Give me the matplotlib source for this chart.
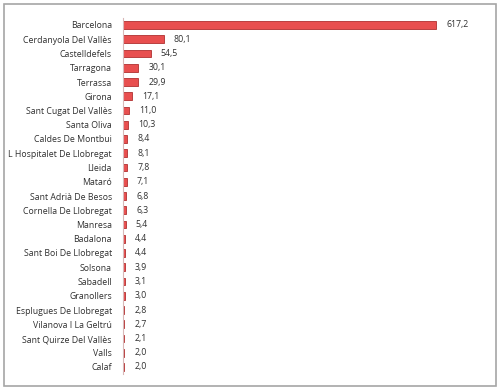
import matplotlib.pyplot as plt
from matplotlib.patches import Rectangle

# data
cities = ['Barcelona', 'Cerdanyola Del Vallès', 'Castelldefels', 'Tarragona', 'Terrassa',
          'Girona', 'Sant Cugat Del Vallès', 'Santa Oliva', 'Caldes De Montbui',
          'L Hospitalet De Llobregat', 'Lleida', 'Mataró', 'Sant Adrià De Besos',
          'Cornella De Llobregat', 'Manresa', 'Badalona', 'Sant Boi De Llobregat',
          'Solsona', 'Sabadell', 'Granollers', 'Esplugues De Llobregat',
          'Vilanova I La Geltrú', 'Sant Quirze Del Vallès', 'Valls', 'Calaf']
values = [617.2, 80.1, 54.5, 30.1, 29.9, 17.1, 11.0, 10.3, 8.4, 8.1, 7.8, 7.1, 6.8,
          6.3, 5.4, 4.4, 4.4, 3.9, 3.1, 3.0, 2.8, 2.7, 2.1, 2.0, 2.0]

plt.rcParams['font.family'] = ['Open Sans', 'DejaVu Sans']

fig = plt.figure(figsize=(5, 3.92), dpi=100)
# outer frame like the original chart border
fig.patches.append(Rectangle((4 / 500, 6 / 392), 492 / 500, 382 / 392, transform=fig.transFigure,
                             fill=False, edgecolor='#a6a6a6', linewidth=1.2))

n = len(cities)
top_px, bot_px = 25, 367
step = (bot_px - top_px) / (n - 1)
ax = fig.add_axes([123 / 500, 1 - (bot_px + step / 2) / 392, 372 / 500, (n * step) / 392])

ypos = list(range(n))
ax.barh(ypos, values, height=0.55, color='#e84f4f', edgecolor='#b03030', linewidth=0.6)
for y, v in zip(ypos, values):
    ax.text(v + 20, y, f'{v:.1f}'.replace('.', ','), va='center', ha='left',
            fontsize=6.3, color='#303030')

ax.set_ylim(n - 0.5, -0.5)
ax.set_xlim(0, 372 / ((436 - 123) / 617.2))
ax.set_yticks(ypos)
ax.set_yticklabels(cities, fontsize=6.3, color='#303030')
ax.tick_params(axis='y', length=0, pad=8)
ax.set_xticks([])
for s in ['top', 'right', 'bottom']:
    ax.spines[s].set_visible(False)
ax.spines['left'].set_color('#d9b8b8')
ax.spines['left'].set_linewidth(0.8)

plt.savefig('out.png', dpi=100)
